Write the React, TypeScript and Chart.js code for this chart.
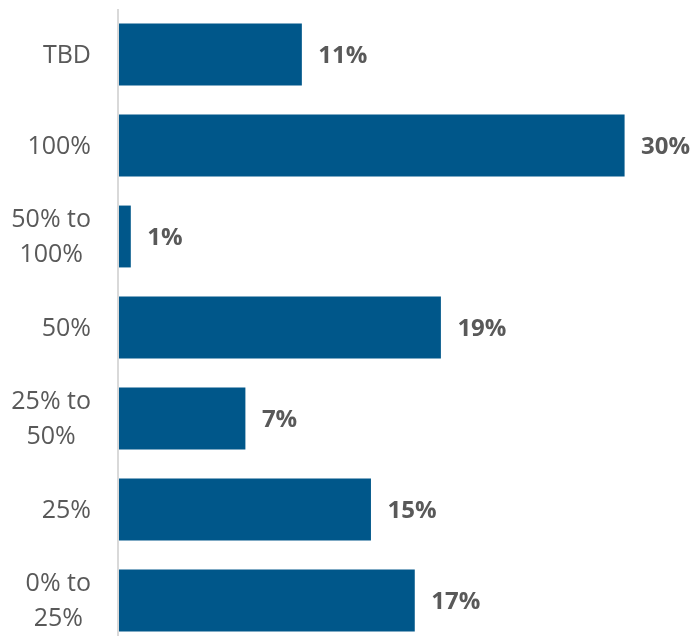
import { useEffect, useRef } from "react";
import { Chart, registerables } from "chart.js";

Chart.register(...registerables);

const categories: string[][] = [
  ["TBD"],
  ["100%"],
  ["50% to", "100%"],
  ["50%"],
  ["25% to", "50%"],
  ["25%"],
  ["0% to", "25%"],
];
const values = [10.85, 30, 0.7, 19.1, 7.5, 14.95, 17.55];
const valueLabels = ["11%", "30%", "1%", "19%", "7%", "15%", "17%"];
const axisMin = 0;
const axisMax = 34;

const BAR_COLOR = "#00578A";
const TEXT_COLOR = "#595959";
const AXIS_COLOR = "#D9D9D9";
const LABEL_RIGHT = 91;
const LINE_H = 35;

const customPlugin = {
  id: "customDraw",
  beforeDatasetsDraw(chart: any) {
    const { ctx, chartArea } = chart;
    ctx.save();
    ctx.strokeStyle = AXIS_COLOR;
    ctx.lineWidth = 2;
    ctx.beginPath();
    ctx.moveTo(chartArea.left - 1, chartArea.top);
    ctx.lineTo(chartArea.left - 1, chartArea.bottom - 10);
    ctx.stroke();

    const yScale = chart.scales.y;
    ctx.font = '25px "Open Sans"';
    ctx.fillStyle = TEXT_COLOR;
    ctx.textBaseline = "middle";
    ctx.textAlign = "center";
    categories.forEach((lines, i) => {
      const yc = yScale.getPixelForValue(i) + 1;
      const maxW = Math.max(...lines.map((l) => ctx.measureText(l).width));
      const xc = LABEL_RIGHT - maxW / 2;
      lines.forEach((l, j) => {
        ctx.fillText(l, xc, yc + (j - (lines.length - 1) / 2) * LINE_H);
      });
    });
    ctx.restore();
  },
  afterDatasetsDraw(chart: any) {
    const { ctx } = chart;
    const meta = chart.getDatasetMeta(0);
    ctx.save();
    ctx.font = 'bold 24px "Open Sans"';
    ctx.fillStyle = TEXT_COLOR;
    ctx.textBaseline = "middle";
    ctx.textAlign = "left";
    meta.data.forEach((bar: any, i: number) => {
      ctx.fillText(valueLabels[i], bar.x + 16.5, bar.y + 2);
    });
    ctx.restore();
  },
};

export default function App() {
  const canvasRef = useRef<HTMLCanvasElement>(null);

  useEffect(() => {
    const canvas = canvasRef.current;
    if (!canvas) return;
    const chart = new Chart(canvas, {
      type: "bar",
      data: {
        labels: categories,
        datasets: [
          {
            data: values,
            backgroundColor: BAR_COLOR,
            borderWidth: 0,
            categoryPercentage: 0.68,
            barPercentage: 1,
          },
        ],
      },
      options: {
        indexAxis: "y",
        responsive: false,
        animation: false,
        devicePixelRatio: 1,
        layout: { padding: { left: 119, top: 9, right: 0, bottom: 0 } },
        plugins: {
          legend: { display: false },
          tooltip: { enabled: false },
        },
        scales: {
          x: { display: false, min: axisMin, max: axisMax },
          y: { display: false },
        },
      },
      plugins: [customPlugin],
    });
    return () => chart.destroy();
  }, []);

  return (
    <div
      style={{
        position: "fixed",
        left: 0,
        top: 0,
        width: 692,
        height: 637,
        overflow: "hidden",
        background: "#fff",
      }}
    >
      <canvas
        ref={canvasRef}
        width={692}
        height={646}
        style={{ display: "block", width: 692, height: 646 }}
      />
    </div>
  );
}
